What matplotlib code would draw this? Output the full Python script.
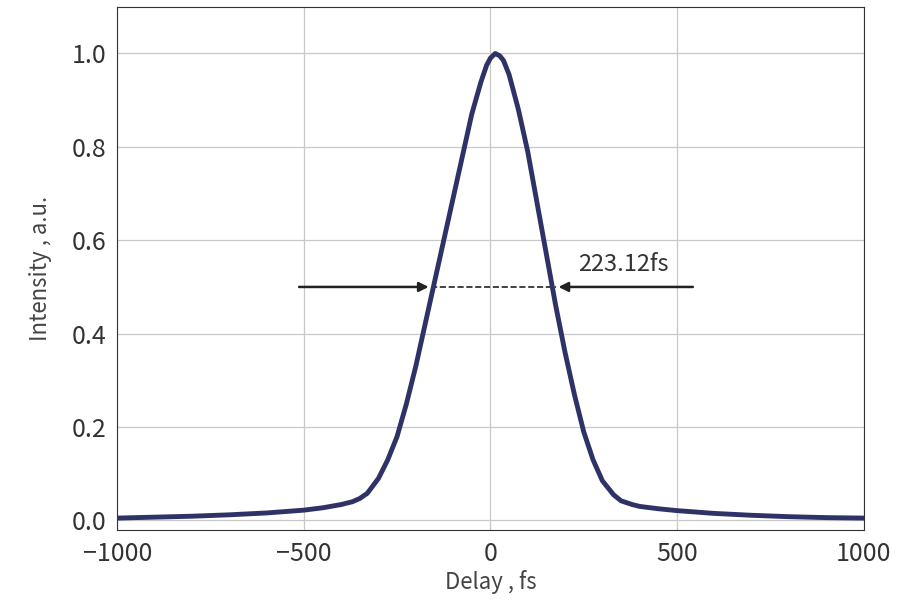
import matplotlib.pyplot as plt

plt.rcParams['font.family'] = ['Noto Sans CJK SC', 'DejaVu Sans']

delay = [-1000, -900, -800, -700, -600, -500, -450, -400, -370, -350, -330, -300,
         -275, -250, -225, -200, -175, -150, -125, -100, -75, -50, -25, -10, 0, 13,
         25, 35, 50, 75, 100, 125, 150, 175, 200, 225, 250, 275, 300, 330, 350, 380,
         400, 450, 500, 600, 700, 800, 900, 1000]
intensity = [0.005, 0.007, 0.009, 0.012, 0.016, 0.022, 0.027, 0.034, 0.040, 0.047, 0.058,
             0.09, 0.13, 0.18, 0.25, 0.33, 0.42, 0.51, 0.60, 0.69, 0.78, 0.87, 0.94, 0.975,
             0.99, 1.0, 0.995, 0.985, 0.955, 0.88, 0.79, 0.68, 0.57, 0.46, 0.36, 0.27, 0.19,
             0.13, 0.085, 0.055, 0.042, 0.034, 0.030, 0.025, 0.021, 0.015, 0.011, 0.008,
             0.006, 0.005]
fwhm_left, fwhm_right = -158, 175
fwhm_label = "223.12fs"

fig = plt.figure(figsize=(9.09, 6.16), dpi=100)
ax = fig.add_axes([0.129, 0.140, 0.821, 0.849])
ax.plot(delay, intensity, color='#2e3266', lw=3.5, zorder=3, solid_joinstyle='round')
ax.set_xlim(-1000, 1000)
ax.set_ylim(-0.02, 1.1)
ax.set_xticks([-1000, -500, 0, 500, 1000])
ax.set_yticks([0.0, 0.2, 0.4, 0.6, 0.8, 1.0])
ax.set_yticklabels(['0.0', '0.2', '0.4', '0.6', '0.8', '1.0'])
ax.tick_params(labelsize=18, colors='#333333', length=0, pad=8)
ax.grid(True, color='#c8c8c8', lw=0.9)
for s in ax.spines.values():
    s.set_color('#333333')
ax.set_xlabel('Delay , fs', fontsize=16, color='#444444', labelpad=2)
ax.set_ylabel('Intensity , a.u.', fontsize=16, color='#444444', labelpad=14)

ax.plot([fwhm_left, fwhm_right], [0.5, 0.5], '--', color='#222222', lw=1.2)
ax.annotate('', xy=(fwhm_left, 0.5), xytext=(-520, 0.5),
            arrowprops=dict(arrowstyle='-|>', color='#222222', lw=1.8, mutation_scale=14))
ax.annotate('', xy=(fwhm_right, 0.5), xytext=(550, 0.5),
            arrowprops=dict(arrowstyle='-|>', color='#222222', lw=1.8, mutation_scale=14))
ax.text(235, 0.547, fwhm_label, fontsize=17, color='#333333', va='center')

fig.savefig('out.png', dpi=100)
